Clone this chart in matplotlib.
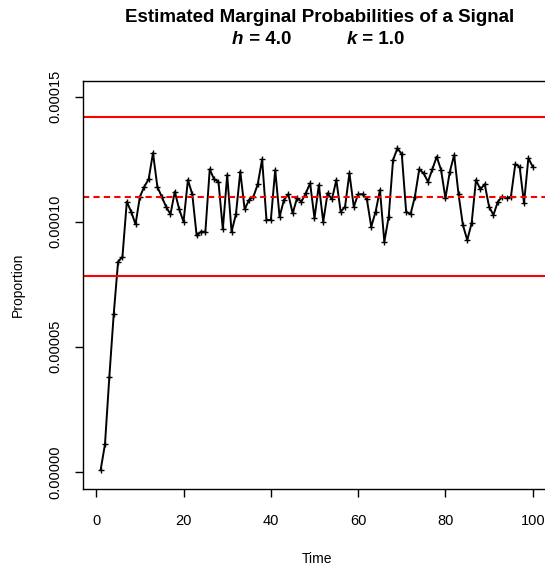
import matplotlib
matplotlib.use("Agg")
import matplotlib.pyplot as plt
import numpy as np

plt.rcParams["font.family"] = ["Liberation Sans", "DejaVu Sans"]

# estimated marginal probability per time step (x 1e-6)
time = np.arange(1, 101)
proportion_e6 = [
    0.7, 11, 38, 63, 84, 86, 108, 104, 99, 110,
    114, 117, 127.5, 114, 110, 106, 103, 112, 105, 100,
    116.7, 111, 94.5, 96, 96, 121, 117, 116, 97, 118.7,
    96, 103, 120, 105, 108.7, 110, 115, 125, 100.7, 100.7,
    120.7, 102, 108.7, 111, 103.4, 109.4, 108, 111.4, 115.4, 101.4,
    114.7, 100, 111.4, 109, 116.7, 104, 106, 119.4, 106, 111,
    111, 109, 98, 104, 112.7, 92, 102, 124.7, 129.4, 127,
    104, 103, 110, 121, 119.4, 116, 121, 126, 120.7, 109.4,
    120, 126.7, 111, 98.7, 92.7, 99.4, 116.7, 113, 115, 106,
    102.7, 108, 110, 109.4, 110, 123, 122, 107.4, 125.4, 122,
]
proportion = np.array(proportion_e6) * 1e-6

upper_limit = 1.418e-4
center_line = 1.098e-4
lower_limit = 7.83e-5

x_ticks = [0, 20, 40, 60, 80, 100]
y_ticks = [0.0, 0.00005, 0.00010, 0.00015]
y_tick_labels = ["0.00000", "0.00005", "0.00010", "0.00015"]

fig = plt.figure(figsize=(5.45, 5.66), dpi=100)
ax = fig.add_axes([0.1529, 0.1355, 0.8563, 0.7219])

ax.plot(time, proportion, color="black", linewidth=1.4,
        marker="+", markersize=4, markeredgewidth=1.0)
ax.axhline(upper_limit, color="#ff0000", linewidth=1.5)
ax.axhline(lower_limit, color="#ff0000", linewidth=1.5)
ax.axhline(center_line, color="#ff0000", linewidth=1.5, linestyle=(0, (3, 2)))

ax.set_xlim(-2.96, 103.96)
ax.set_ylim(-7.0e-6, 1.564e-4)
ax.set_xticks(x_ticks)
ax.set_xticklabels([str(t) for t in x_ticks], fontsize=10.5)
ax.set_yticks(y_ticks)
ax.set_yticklabels(y_tick_labels, fontsize=10.5, rotation=90, va="center")
ax.tick_params(direction="out", length=6, width=1.0)
ax.tick_params(axis="x", pad=12)
ax.tick_params(axis="y", pad=9)
for spine in ax.spines.values():
    spine.set_linewidth(1.0)

ax.set_xlabel("Time", fontsize=10, labelpad=17)
ax.set_ylabel("Proportion", fontsize=10, labelpad=17)

fig.text(320 / 545, 1 - 18 / 566, "Estimated Marginal Probabilities of a Signal",
         ha="center", va="center", fontsize=13.5, fontweight="bold")

h_txt = fig.text(232 / 545, 1 - 40 / 566, "h", ha="left", va="center",
                 fontsize=13.5, fontweight="bold", fontstyle="italic")
ax.annotate(" = 4.0", xy=(1, 0), xycoords=h_txt, va="bottom", ha="left",
            fontsize=13.5, fontweight="bold", annotation_clip=False)
k_txt = fig.text(347 / 545, 1 - 40 / 566, "k", ha="left", va="center",
                 fontsize=13.5, fontweight="bold", fontstyle="italic")
ax.annotate(" = 1.0", xy=(1, 0), xycoords=k_txt, va="bottom", ha="left",
            fontsize=13.5, fontweight="bold", annotation_clip=False)

fig.savefig("out.png", dpi=100)
